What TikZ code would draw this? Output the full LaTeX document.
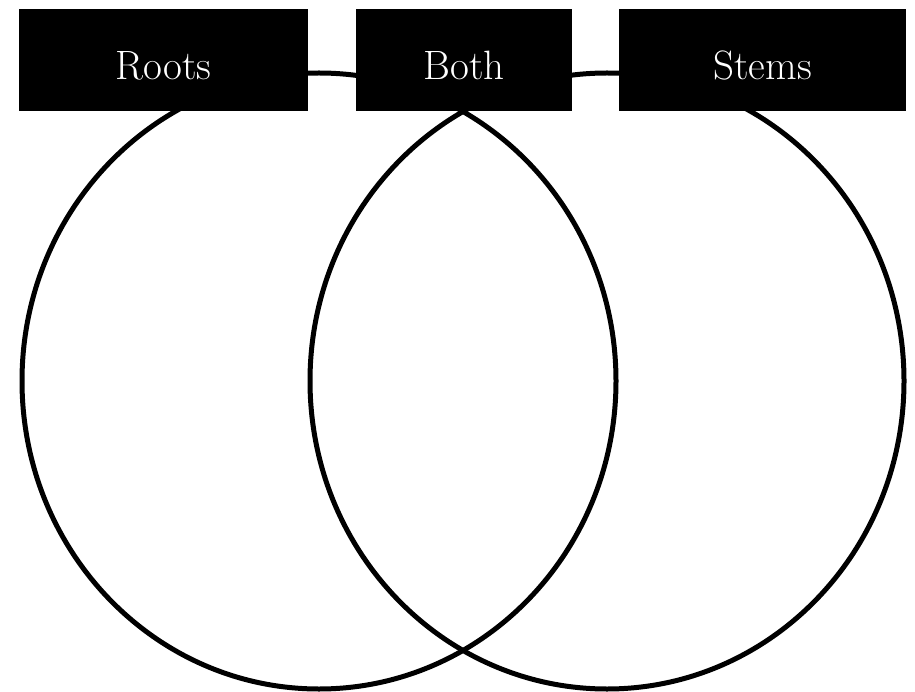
\documentclass[tikz,border=0pt]{standalone}
\usepackage{fontspec}
\usepackage{tikz}
\usetikzlibrary{shapes.geometric}

\begin{document}
\begin{tikzpicture}[
  x=1pt,y=-1pt,
  set/.style={draw,ellipse,line width=5pt,inner sep=0pt,
              minimum width=594pt,minimum height=616pt},
  tag/.style={fill=black,text=white,inner sep=0pt,minimum height=102pt,
              text height=40pt,text depth=0pt,
              font=\fontsize{41}{48}\selectfont}
]
\useasboundingbox (0,0) rectangle (915,692);
\node[set] (roots set) at (319,381) {};
\node[set] (stems set) at (607,381) {};
\node[tag,minimum width=289pt] (roots) at (163.5,60) {Roots};
\node[tag,minimum width=216pt] (both) at (464,60) {Both};
\node[tag,minimum width=287pt] (stems) at (762.5,60) {Stems};
\end{tikzpicture}
\end{document}
